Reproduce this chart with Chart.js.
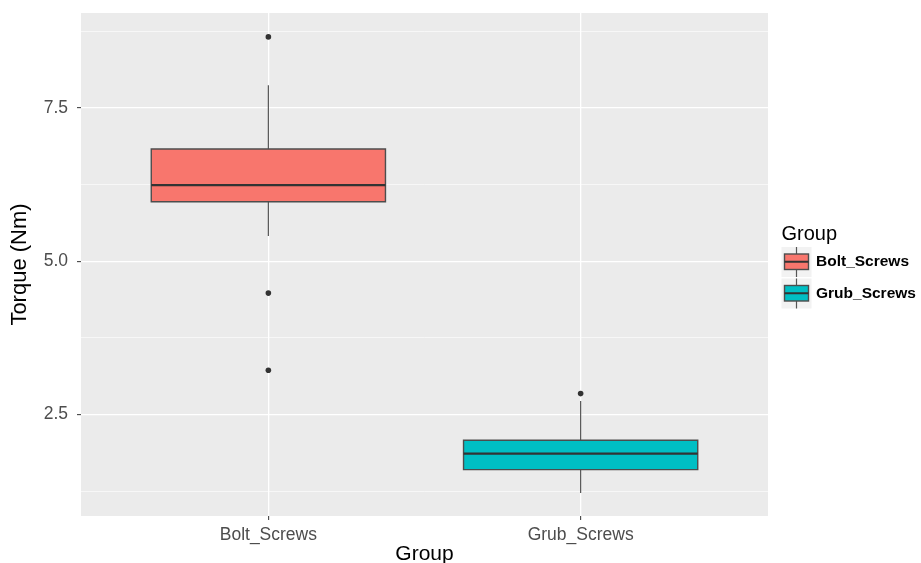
<!DOCTYPE html>
<html>
<head>
<meta charset="utf-8">
<script src="https://cdn.jsdelivr.net/npm/chart.js@4.4.1/dist/chart.umd.min.js"></script>
<style>
  html, body { margin: 0; padding: 0; background: #fff; }
  canvas { display: block; }
</style>
</head>
<body>
<canvas id="boxplot" width="921" height="563"></canvas>
<script>
// box statistics
var groups = ['Bolt_Screws', 'Grub_Screws'];
var whiskerLow = [5.41, 1.22];
var q1 = [5.97, 1.60];
var median = [6.24, 1.86];
var q3 = [6.83, 2.08];
var whiskerHigh = [7.87, 2.72];
var outliers = [[8.66, 4.48, 3.22], [2.84]];
var majorTicks = [2.5, 5.0, 7.5];
var fills = ['#F8766D', '#00BFC4'];

var HALF = 0.375; // half box width in x units
var FONT = '"Liberation Sans", Arial, sans-serif';

function isMajor(v) {
    return majorTicks.some(function (m) { return Math.abs(m - v) < 1e-6; });
}

var datasets = [];
groups.forEach(function (g, i) {
    var x = i + 1;
    datasets.push({
        label: g + ' upper whisker',
        data: [{x: x, y: q3[i]}, {x: x, y: whiskerHigh[i]}],
        borderColor: '#555555', borderWidth: 1.2,
        pointRadius: 0, showLine: true, order: 3
    });
    datasets.push({
        label: g + ' lower whisker',
        data: [{x: x, y: whiskerLow[i]}, {x: x, y: q1[i]}],
        borderColor: '#555555', borderWidth: 1.2,
        pointRadius: 0, showLine: true, order: 3
    });
    datasets.push({
        label: g,
        data: [
            {x: x - HALF, y: q1[i]}, {x: x + HALF, y: q1[i]},
            {x: x + HALF, y: q3[i]}, {x: x - HALF, y: q3[i]},
            {x: x - HALF, y: q1[i]}
        ],
        borderColor: '#4D4D4D', borderWidth: 1.4, borderCapStyle: 'square',
        backgroundColor: fills[i], fill: 'shape',
        pointRadius: 0, showLine: true, tension: 0, order: 2
    });
    datasets.push({
        label: g + ' median',
        data: [{x: x - HALF, y: median[i]}, {x: x + HALF, y: median[i]}],
        borderColor: '#333333', borderWidth: 2.2,
        pointRadius: 0, showLine: true, order: 1
    });
    datasets.push({
        label: g + ' outliers',
        data: outliers[i].map(function (v) { return {x: x, y: v}; }),
        backgroundColor: '#333333', borderWidth: 0,
        pointRadius: 2.8, showLine: false, order: 0
    });
});

var panelBg = {
    id: 'panelBg',
    beforeDraw: function (chart) {
        var a = chart.chartArea, c = chart.ctx;
        c.save();
        c.fillStyle = '#EBEBEB';
        c.fillRect(a.left, a.top, a.right - a.left, a.bottom - a.top);
        c.restore();
    }
};

// ggplot style legend: title + box glyph keys
var ggLegend = {
    id: 'ggLegend',
    afterDraw: function (chart) {
        var c = chart.ctx, a = chart.chartArea;
        var x0 = a.right + 13.5;
        var top = (a.top + a.bottom) / 2 - 42;
        c.save();
        c.fillStyle = '#000';
        c.font = '20px ' + FONT;
        c.textBaseline = 'alphabetic';
        c.textAlign = 'left';
        c.fillText('Group', x0, top + 17);
        groups.forEach(function (g, i) {
            var ky = top + 24.5 + i * 31.5;
            c.fillStyle = '#F2F2F2';
            c.fillRect(x0, ky, 30, 30);
            c.strokeStyle = '#555555';
            c.lineWidth = 1.2;
            c.beginPath();
            c.moveTo(x0 + 15, ky);
            c.lineTo(x0 + 15, ky + 30);
            c.stroke();
            c.fillStyle = fills[i];
            c.fillRect(x0 + 3, ky + 7, 24, 15.5);
            c.strokeStyle = '#4D4D4D';
            c.lineWidth = 1.4;
            c.strokeRect(x0 + 3, ky + 7, 24, 15.5);
            c.strokeStyle = '#333333';
            c.lineWidth = 2;
            c.beginPath();
            c.moveTo(x0 + 3, ky + 14.75);
            c.lineTo(x0 + 27, ky + 14.75);
            c.stroke();
            c.fillStyle = '#000';
            c.font = 'bold 15.5px ' + FONT;
            c.textBaseline = 'middle';
            c.fillText(g, x0 + 34.5, ky + 15);
        });
        c.restore();
    }
};

new Chart(document.getElementById('boxplot').getContext('2d'), {
    type: 'scatter',
    data: { datasets: datasets },
    plugins: [panelBg, ggLegend],
    options: {
        responsive: false,
        animation: false,
        devicePixelRatio: 1,
        layout: { padding: { top: 13, right: 153, left: 0, bottom: 0 } },
        plugins: {
            legend: { display: false },
            tooltip: { enabled: false }
        },
        scales: {
            x: {
                type: 'linear',
                min: 0.4,
                max: 2.6,
                afterBuildTicks: function (s) {
                    s.ticks = groups.map(function (g, i) { return {value: i + 1}; });
                },
                afterFit: function (s) {
                    s.height = 47;
                    s.paddingLeft = 0;
                    s.paddingRight = 0;
                },
                ticks: {
                    autoSkip: false, maxRotation: 0, padding: 5,
                    color: '#4D4D4D',
                    font: { family: FONT, size: 17.5 },
                    callback: function (v, i) { return groups[i]; }
                },
                grid: { color: '#FFFFFF', lineWidth: 1.3, tickColor: '#333333', tickLength: 4, tickWidth: 1 },
                border: { display: false },
                title: {
                    display: true, text: 'Group', color: '#000',
                    font: { family: FONT, size: 21 },
                    padding: { top: 0, bottom: -4 }
                }
            },
            y: {
                type: 'linear',
                min: 0.843,
                max: 9.05,
                afterFit: function (s) {
                    s.width = 81;
                    s.paddingTop = 0;
                    s.paddingBottom = 0;
                },
                ticks: {
                    stepSize: 1.25, includeBounds: false, autoSkip: false, padding: 9,
                    color: '#4D4D4D',
                    font: { family: FONT, size: 17.5 },
                    callback: function (v) { return isMajor(v) ? v.toFixed(1) : ''; }
                },
                grid: {
                    color: '#FFFFFF',
                    lineWidth: function (ctx) { return ctx.tick && isMajor(ctx.tick.value) ? 1.3 : 0.6; },
                    tickColor: function (ctx) { return ctx.tick && isMajor(ctx.tick.value) ? '#333333' : 'rgba(0,0,0,0)'; },
                    tickLength: 4, tickWidth: 1
                },
                border: { display: false },
                title: {
                    display: true, text: 'Torque (Nm)', color: '#000',
                    font: { family: FONT, size: 22 },
                    padding: { top: 7, bottom: 0 }
                }
            }
        }
    }
});
</script>
</body>
</html>
